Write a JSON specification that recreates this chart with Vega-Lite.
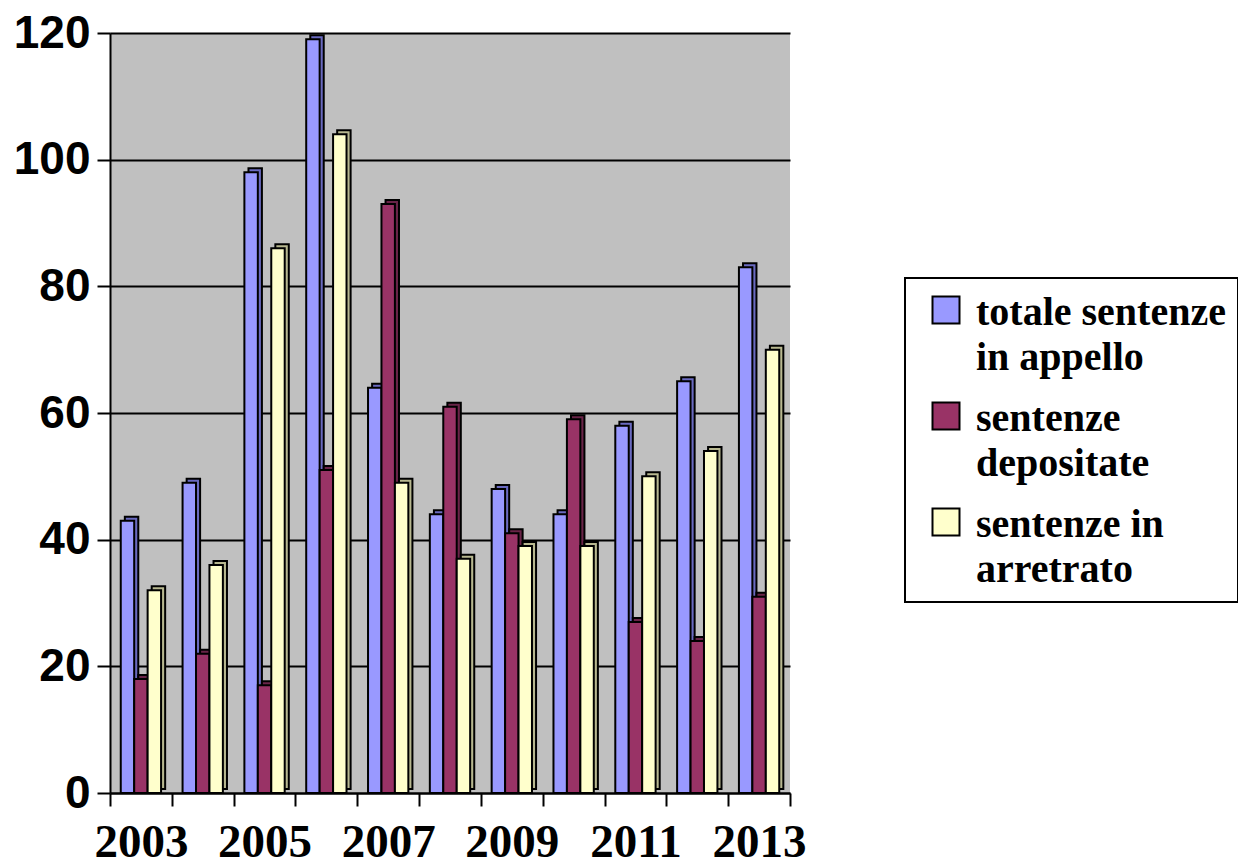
{
  "$schema": "https://vega.github.io/schema/vega-lite/v6.json",
  "width": 680,
  "height": 760,
  "autosize": "none",
  "padding": {"left": 110, "top": 33, "right": 448, "bottom": 72},
  "background": "white",
  "config": {
    "view": {"fill": "#C0C0C0", "stroke": null}
  },
  "data": {
    "values": [
      {"year": "2003", "series": "totale sentenze in appello", "value": 43},
      {"year": "2003", "series": "sentenze depositate", "value": 18},
      {"year": "2003", "series": "sentenze in arretrato", "value": 32},
      {"year": "2004", "series": "totale sentenze in appello", "value": 49},
      {"year": "2004", "series": "sentenze depositate", "value": 22},
      {"year": "2004", "series": "sentenze in arretrato", "value": 36},
      {"year": "2005", "series": "totale sentenze in appello", "value": 98},
      {"year": "2005", "series": "sentenze depositate", "value": 17},
      {"year": "2005", "series": "sentenze in arretrato", "value": 86},
      {"year": "2006", "series": "totale sentenze in appello", "value": 119},
      {"year": "2006", "series": "sentenze depositate", "value": 51},
      {"year": "2006", "series": "sentenze in arretrato", "value": 104},
      {"year": "2007", "series": "totale sentenze in appello", "value": 64},
      {"year": "2007", "series": "sentenze depositate", "value": 93},
      {"year": "2007", "series": "sentenze in arretrato", "value": 49},
      {"year": "2008", "series": "totale sentenze in appello", "value": 44},
      {"year": "2008", "series": "sentenze depositate", "value": 61},
      {"year": "2008", "series": "sentenze in arretrato", "value": 37},
      {"year": "2009", "series": "totale sentenze in appello", "value": 48},
      {"year": "2009", "series": "sentenze depositate", "value": 41},
      {"year": "2009", "series": "sentenze in arretrato", "value": 39},
      {"year": "2010", "series": "totale sentenze in appello", "value": 44},
      {"year": "2010", "series": "sentenze depositate", "value": 59},
      {"year": "2010", "series": "sentenze in arretrato", "value": 39},
      {"year": "2011", "series": "totale sentenze in appello", "value": 58},
      {"year": "2011", "series": "sentenze depositate", "value": 27},
      {"year": "2011", "series": "sentenze in arretrato", "value": 50},
      {"year": "2012", "series": "totale sentenze in appello", "value": 65},
      {"year": "2012", "series": "sentenze depositate", "value": 24},
      {"year": "2012", "series": "sentenze in arretrato", "value": 54},
      {"year": "2013", "series": "totale sentenze in appello", "value": 83},
      {"year": "2013", "series": "sentenze depositate", "value": 31},
      {"year": "2013", "series": "sentenze in arretrato", "value": 70}
    ]
  },
  "encoding": {
    "x": {
      "field": "year",
      "type": "nominal",
      "scale": {"paddingInner": 0, "paddingOuter": 0},
      "axis": {
        "title": null,
        "labelAngle": 0,
        "tickBand": "extent",
        "labelExpr": "toNumber(datum.value) % 2 == 1 ? datum.label : ''",
        "labelFont": "Liberation Serif",
        "labelFontWeight": "bold",
        "labelFontSize": 47,
        "labelColor": "black",
        "labelPadding": 13,
        "labelBaseline": "top",
        "tickColor": "black",
        "tickWidth": 2,
        "tickSize": 13,
        "domainColor": "black",
        "domainWidth": 2
      }
    },
    "y": {
      "field": "value",
      "type": "quantitative",
      "scale": {"domain": [0, 120], "nice": false},
      "axis": {
        "title": null,
        "values": [0, 20, 40, 60, 80, 100, 120],
        "labelFont": "Liberation Sans",
        "labelFontWeight": "bold",
        "labelFontSize": 46,
        "labelColor": "black",
        "labelPadding": 7,
        "tickColor": "black",
        "tickWidth": 2,
        "tickSize": 13,
        "domainColor": "black",
        "domainWidth": 2,
        "grid": true,
        "gridColor": "black",
        "gridWidth": 2,
        "gridOpacity": 1
      }
    }
  },
  "layer": [
    {
      "mark": {"type": "bar", "stroke": "black", "strokeWidth": 2, "yOffset": -4},
      "encoding": {
        "xOffset": {
          "field": "series",
          "type": "nominal",
          "sort": ["totale sentenze in appello", "sentenze depositate", "sentenze in arretrato"],
          "scale": {"paddingInner": 0, "paddingOuter": 0.8, "align": 0.69}
        },
        "color": {
          "field": "series",
          "type": "nominal",
          "scale": {
            "domain": ["totale sentenze in appello", "sentenze depositate", "sentenze in arretrato"],
            "range": ["#6A6AC0", "#6A2448", "#B8B890"]
          },
          "legend": null
        }
      }
    },
    {
      "mark": {"type": "bar", "stroke": "black", "strokeWidth": 2},
      "encoding": {
        "xOffset": {
          "field": "series",
          "type": "nominal",
          "sort": ["totale sentenze in appello", "sentenze depositate", "sentenze in arretrato"],
          "scale": {"paddingInner": 0, "paddingOuter": 0.8, "align": 0.5}
        },
        "color": {
          "field": "series",
          "type": "nominal",
          "scale": {
            "domain": ["totale sentenze in appello", "sentenze depositate", "sentenze in arretrato"],
            "range": ["#9999FF", "#993366", "#FFFFCC"]
          },
          "legend": {
            "title": null,
            "orient": "none",
            "legendX": 795,
            "legendY": 245,
            "direction": "vertical",
            "fillColor": "white",
            "strokeColor": "black",
            "padding": 12,
            "symbolOffset": 9,
            "symbolType": "square",
            "symbolSize": 729,
            "symbolStrokeColor": "black",
            "symbolStrokeWidth": 2,
            "symbolOpacity": 1,
            "labelFont": "Liberation Serif",
            "labelFontWeight": "bold",
            "labelFontSize": 40,
            "labelColor": "black",
            "labelLimit": 0,
            "labelOffset": 10,
            "labelBaseline": "alphabetical",
            "rowPadding": 18,
            "labelExpr": "datum.label == 'totale sentenze in appello' ? ['totale sentenze', 'in appello'] : datum.label == 'sentenze depositate' ? ['sentenze', 'depositate'] : ['sentenze in', 'arretrato']",
            "encode": {
              "legend": {"update": {"strokeWidth": {"value": 2}}},
              "labels": {"update": {"dy": {"value": 15}, "lineHeight": {"value": 45}}}
            }
          }
        }
      }
    }
  ],
  "resolve": {"scale": {"color": "independent", "xOffset": "independent"}}
}
